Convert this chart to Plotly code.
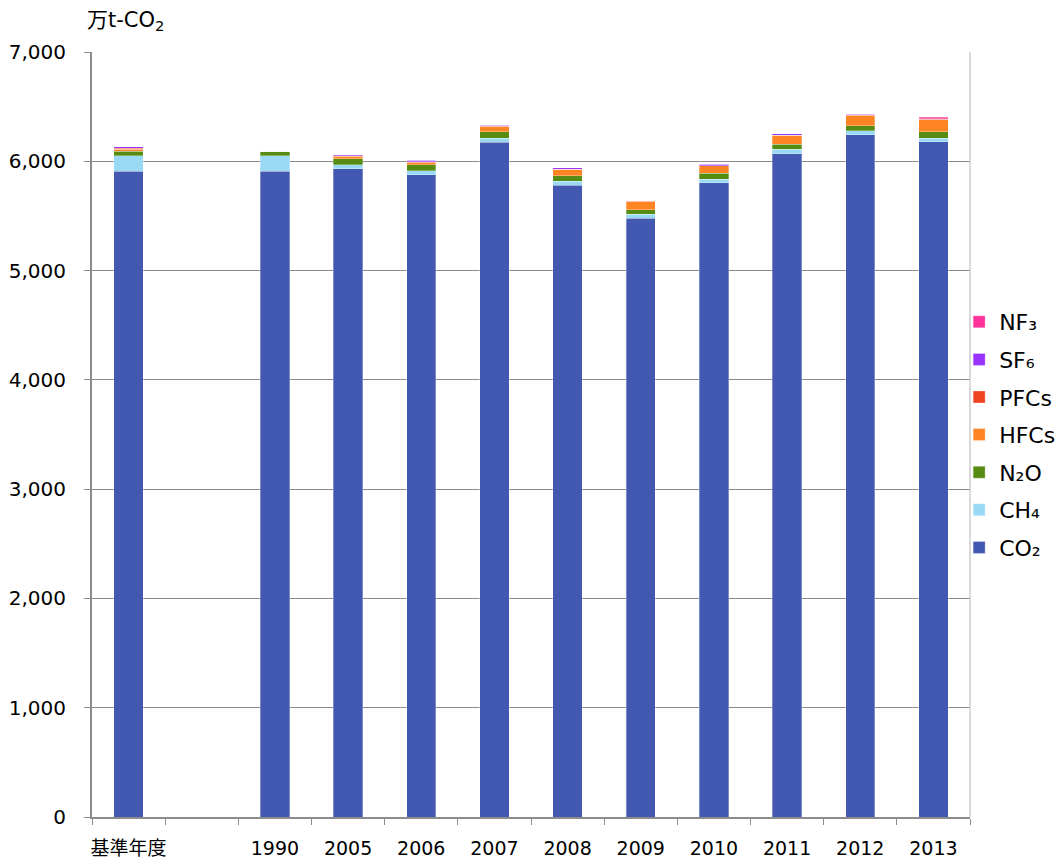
import plotly.graph_objects as go

categories = ["基準年度", " ", "1990", "2005", "2006", "2007", "2008", "2009", "2010", "2011", "2012", "2013"]
co2 = [5911, None, 5911, 5932, 5879, 6176, 5780, 5481, 5802, 6069, 6245, 6177]
ch4 = [140, None, 140, 36, 33, 37, 37, 36, 34, 43, 33, 36]
n2o = [42, None, 42, 54, 55, 58, 51, 40, 55, 46, 46, 58]
hfcs = [18, None, 0, 26, 25, 45, 57, 73, 67, 79, 91, 111]
pfcs = [8, None, 0, 4, 6, 4, 3, 3, 3, 2, 5, 2]
sf6 = [13, None, 0, 8, 12, 12, 12, 8, 12, 12, 12, 3]
nf3 = [0, None, 0, 0, 0, 0, 0, 0, 0, 0, 0, 17]

series = [
    ("CO₂", co2, "#4358B0"),
    ("CH₄", ch4, "#99D9F3"),
    ("N₂O", n2o, "#568C12"),
    ("HFCs", hfcs, "#FF8424"),
    ("PFCs", pfcs, "#F04522"),
    ("SF₆", sf6, "#9933FF"),
    ("NF₃", nf3, "#FF3399"),
]

font_family = "DejaVu Sans, Noto Sans CJK JP, sans-serif"

fig = go.Figure()
n = len(series)
for i, (name, vals, color) in enumerate(series):
    fig.add_trace(go.Bar(
        x=categories, y=vals, name=name, legendgroup=name,
        legendrank=n - i,
        marker=dict(color=color, line=dict(width=0.6, color="rgba(255,255,255,0.5)")),
    ))

fig.update_layout(
    barmode="stack",
    bargap=0.6,
    width=1061, height=858,
    margin=dict(l=92, r=91, t=52, b=41, autoexpand=False),
    paper_bgcolor="white",
    plot_bgcolor="white",
    font=dict(family=font_family, size=19, color="#000000"),
    showlegend=True,
    legend=dict(
        traceorder="grouped",
        xref="container", yref="container",
        x=0.904, xanchor="left",
        y=0.493, yanchor="middle",
        font=dict(size=22, family=font_family),
        itemwidth=30,
        tracegroupgap=6,
        bgcolor="rgba(0,0,0,0)",
    ),
    annotations=[dict(
        text="万t-CO<sub>2</sub>",
        xref="paper", yref="paper",
        x=-0.008, y=1.0, xanchor="left", yanchor="bottom",
        yshift=16,
        showarrow=False,
        font=dict(size=21, family=font_family),
    )],
)

fig.update_xaxes(
    type="category",
    categoryorder="array", categoryarray=categories,
    showline=True, linecolor="#8C8C8C", linewidth=2,
    ticks="outside", tickson="boundaries", ticklen=6, tickcolor="#8C8C8C", tickwidth=1,
    showgrid=False,
    tickangle=0,
    tickfont=dict(size=19),
    ticklabelstandoff=13,
    automargin=False,
    mirror=False,
)

fig.update_yaxes(
    range=[0, 7000],
    tickvals=[0, 1000, 2000, 3000, 4000, 5000, 6000, 7000],
    ticktext=["0", "1,000", "2,000", "3,000", "4,000", "5,000", "6,000", "7,000"],
    showline=True, linecolor="#8C8C8C", linewidth=2,
    ticks="outside", ticklen=6, tickcolor="#8C8C8C",
    showgrid=True, gridcolor="#8C8C8C", gridwidth=1,
    tickfont=dict(size=20),
    ticklabelstandoff=14,
    automargin=False,
    zeroline=False,
)

# right border line of plot area
fig.add_shape(type="line", xref="paper", yref="paper", x0=1, x1=1, y0=0, y1=1,
              line=dict(color="#B4B4B4", width=1))

fig.write_html("out.html")
